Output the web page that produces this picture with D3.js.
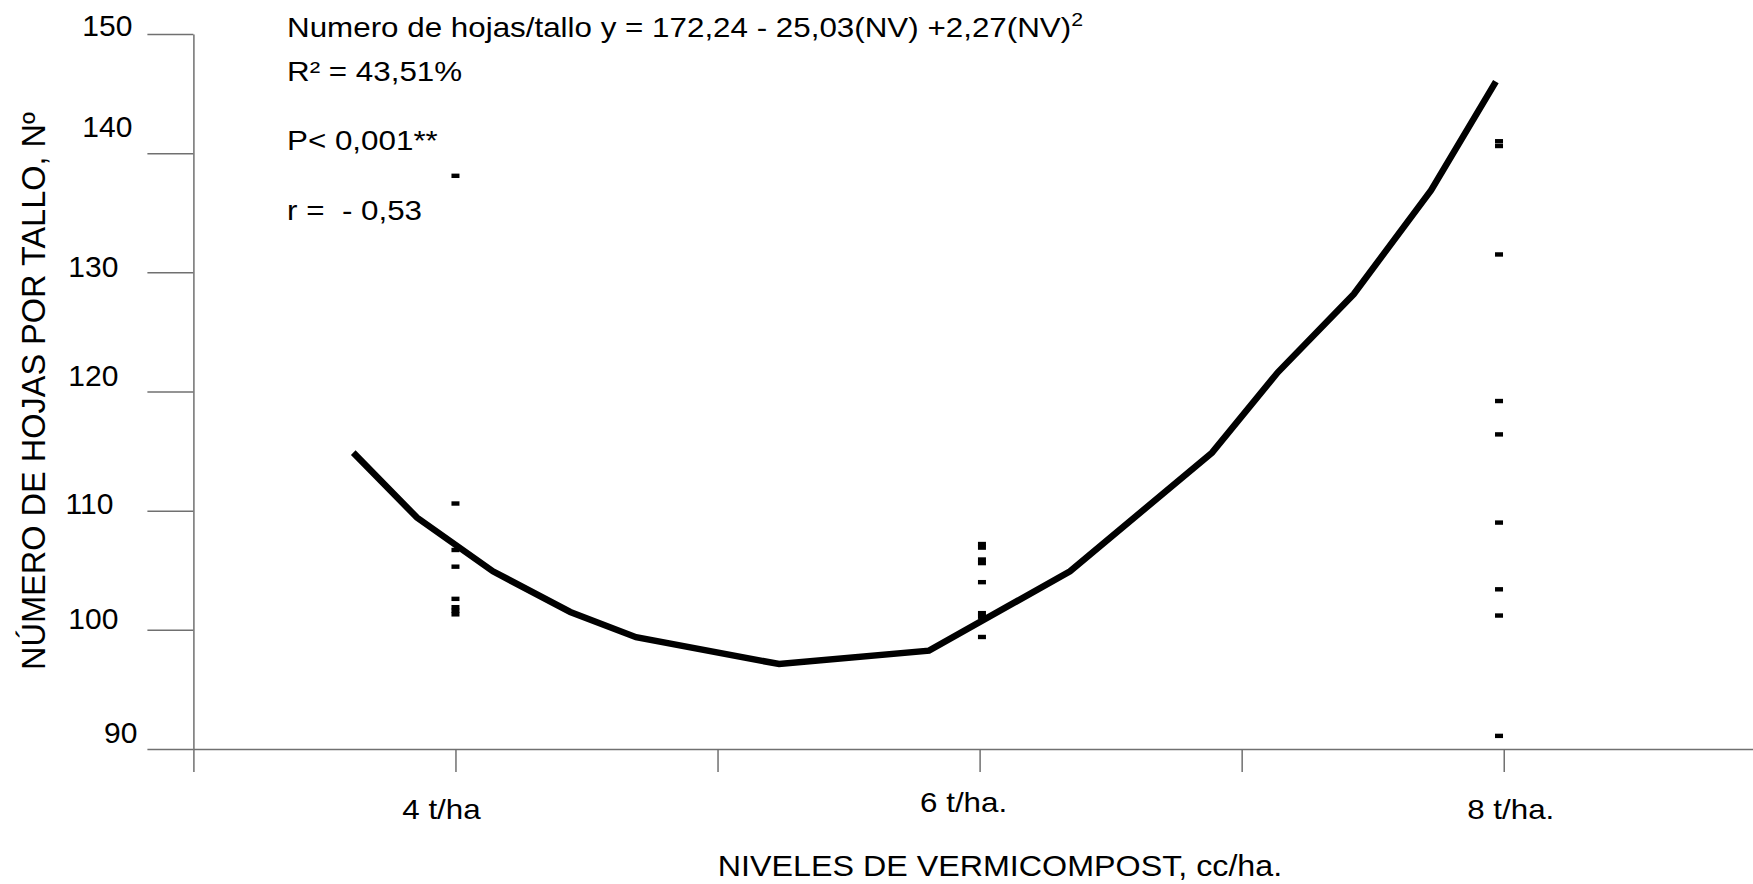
<!DOCTYPE html>
<html>
<head>
<meta charset="utf-8">
<script src="https://cdn.jsdelivr.net/npm/d3@7"></script>
<style>
body{margin:0;background:#fff;}
text{font-family:"Liberation Sans",Arial,sans-serif;fill:#000;white-space:pre;}
</style>
</head>
<body>
<div id="chart"></div>
<script>
// niveles de vermicompost y etiquetas
var niveles=[4,6,8];
var etiquetasX=["4 t/ha","6 t/ha.","8 t/ha."];
var ticksX=[3,4,5,6,7,8,9];
var ticksY=[90,100,110,120,130,140,150];

// observaciones (hojas por tallo) en cada nivel
var obs4=[138.1,110.6,106.7,105.3,102.6,101.9,101.6,101.3];
var obs6=[107.2,106.9,105.9,105.6,104.0,101.4,101.1,99.4];
var obs8=[141.0,140.6,131.5,119.2,116.4,109.0,103.4,101.2,91.1];
var obsNV=[4.0,6.009,7.982];

// curva ajustada
var curvaNV=[3.61,3.853,4.143,4.438,4.689,5.235,5.807,6.345,6.887,7.138,7.428,7.723,7.970];
var curvaY=[114.87,109.42,104.91,101.5,99.38,97.13,98.25,104.91,114.87,121.61,128.18,136.90,146.0];

// textos
var ecuacion="Numero de hojas/tallo y = 172,24 - 25,03(NV) +2,27(NV)";
var notas=["R² = 43,51%","P< 0,001**","r =  - 0,53"];
var tituloX="NIVELES DE VERMICOMPOST, cc/ha.";
var tituloY="NÚMERO DE HOJAS POR TALLO, Nº";

var width=1753,height=884;
var stretch=1.12; // el grafico original tiene el texto algo ensanchado
var axisColor="#707070";

var svg=d3.select("#chart").append("svg")
  .attr("width",width).attr("height",height);

var x=d3.scaleLinear().domain([3,9]).range([193.4,1765.8]);
var y=d3.scaleLinear().domain([90,150]).range([749,34]);

// eje y
var gy=svg.append("g").attr("transform","translate("+x(3)+",0)")
  .call(d3.axisLeft(y).tickValues(ticksY).tickSize(46).tickSizeOuter(0).tickFormat(""));
// eje x
var gx=svg.append("g").attr("transform","translate(0,"+y(90)+")")
  .call(d3.axisBottom(x).tickValues(ticksX).tickSize(23).tickSizeOuter(0).tickFormat(""));
svg.selectAll(".domain,.tick line").attr("stroke",axisColor).attr("stroke-width",1.5);

// etiquetas del eje y: en el original no estan alineadas, se corrigen a mano
var ajusteY={150:[-15,2],140:[-15,-16],130:[-29,5],120:[-29,-6],110:[-34,3],100:[-29,-1],90:[-10,-6]};
svg.append("g").selectAll("text").data(ticksY).enter().append("text")
  .attr("x",function(d){return x(3)-46+ajusteY[d][0];})
  .attr("y",function(d){return y(d)+ajusteY[d][1];})
  .attr("text-anchor","end").style("font-size","30px")
  .text(function(d){return d;});

// texto ensanchado horizontalmente
function textoAncho(g,tx,ty,size,anchor){
  return g.append("text")
    .attr("transform","translate("+tx+","+ty+") scale("+stretch+",1)")
    .attr("text-anchor",anchor).style("font-size",size+"px");
}

// etiquetas del eje x
var ajusteX=[[-14,819],[-16,812],[7,819]];
niveles.forEach(function(n,i){
  textoAncho(svg,x(n)+ajusteX[i][0],ajusteX[i][1],28,"middle").text(etiquetasX[i]);
});

// titulos
textoAncho(svg,1000,876,28.8,"middle").text(tituloX);
svg.append("text")
  .attr("transform","translate(45,391) rotate(-90)")
  .attr("text-anchor","middle").style("font-size","32.5px")
  .text(tituloY);

// ecuacion y estadisticos
var eq=textoAncho(svg,287,37,28,"start");
eq.append("tspan").text(ecuacion);
eq.append("tspan").attr("dy",-11).style("font-size","19px").text("2");
var basesNotas=[81,150,220];
notas.forEach(function(t,i){
  textoAncho(svg,287,basesNotas[i],28,"start").text(t);
});

// observaciones
var grupos=[obs4,obs6,obs8];
grupos.forEach(function(vals,i){
  svg.append("g").selectAll("rect").data(vals).enter().append("rect")
    .attr("x",x(obsNV[i])-4)
    .attr("y",function(d){return y(d)-2.2;})
    .attr("width",8).attr("height",4.4)
    .attr("fill","#000");
});

// curva
var linea=d3.line()
  .x(function(d,i){return x(curvaNV[i]);})
  .y(function(d){return y(d);});
svg.append("path").datum(curvaY)
  .attr("d",linea)
  .attr("fill","none").attr("stroke","#000")
  .attr("stroke-width",6.5).attr("stroke-linejoin","miter");
</script>
</body>
</html>
